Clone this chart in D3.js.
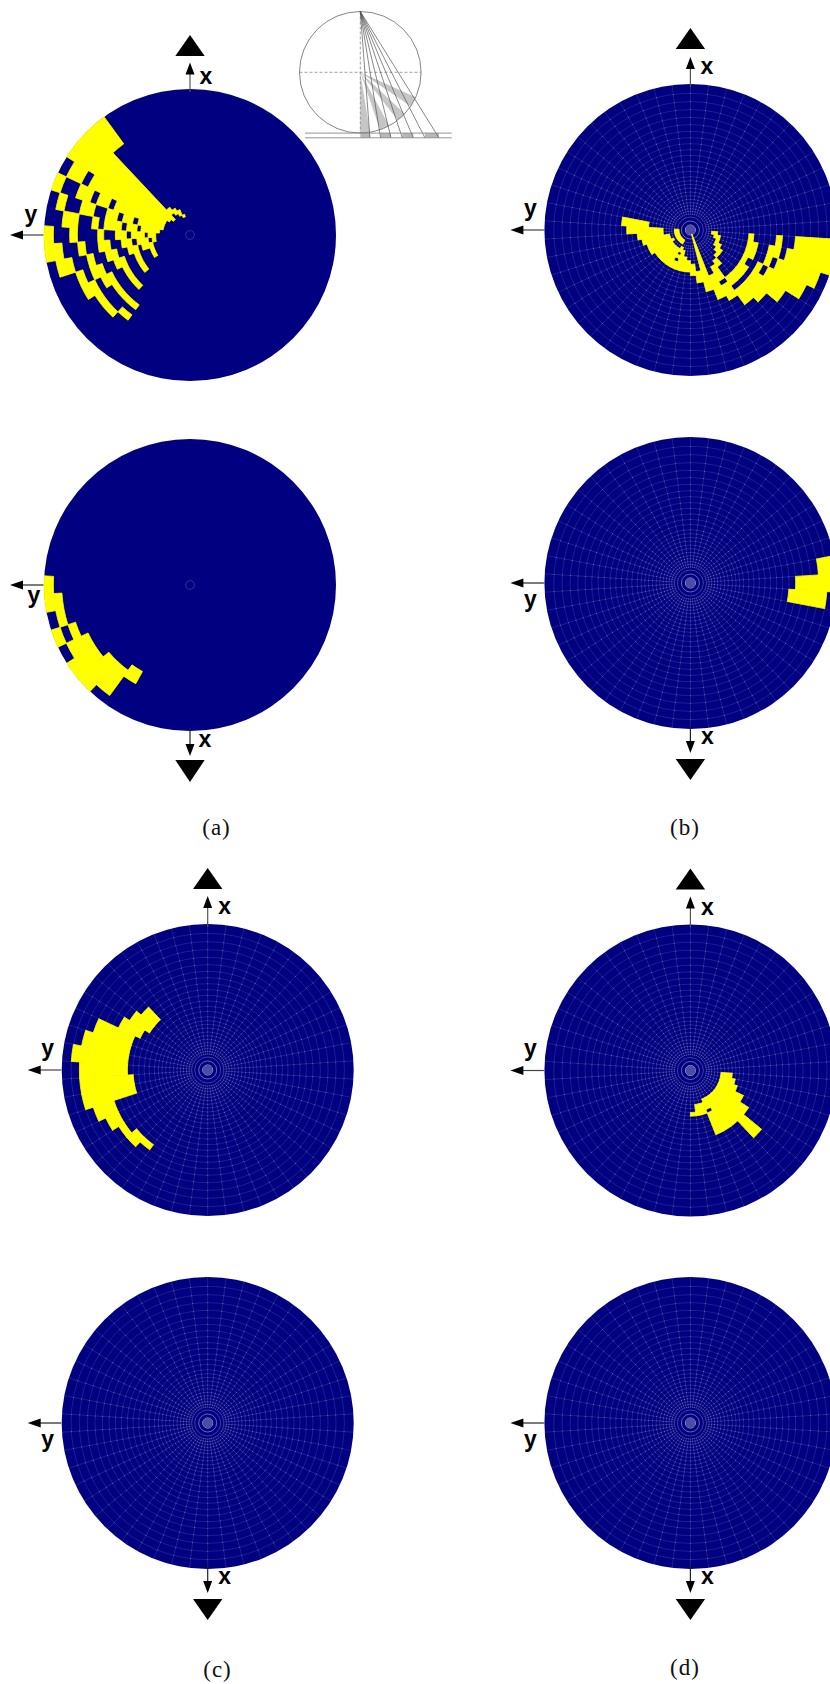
<!DOCTYPE html>
<html><head><meta charset="utf-8">
<script src="https://cdnjs.cloudflare.com/ajax/libs/d3/7.8.5/d3.min.js"></script>
<style>html,body{margin:0;padding:0;background:#fff;overflow:hidden}svg{display:block}</style>
</head><body><svg id="c" width="830" height="1684"></svg>
<script>
// Radial bin edges (outer to inner), in units where the disk radius is 438
const ringEdges = [438,410,385,361,338,316,296,277,259,241,224,207,191,176,160,148,137,126,114,103,92,82,73,64,56,48,40,34,27,20,13];
const sectorCount = 50;
const centerCircles = [39,27,15];
// Yellow bins: [sector, [firstRing,lastRing], ...]
const cellsATop = [
 [47,[23,23]],[46,[21,22]],[45,[20,21]],[44,[0,3],[19,20]],[43,[0,22]],[42,[0,21]],
 [41,[1,2],[4,20]],[40,[0,0],[3,4],[6,7],[9,20]],[39,[1,1],[4,5],[8,9],[11,12],[14,20]],
 [38,[2,3],[6,6],[8,10],[12,13],[15,19]],[37,[0,0],[3,3],[7,7],[10,11],[13,15],[17,18]],
 [36,[0,1],[4,4],[7,8],[11,12],[14,16],[18,18]],[35,[1,2],[5,5],[8,9],[12,13],[15,17]],
 [34,[3,3],[5,6],[9,10],[13,13],[17,17]],[33,[3,4],[6,7],[10,10],[13,13],[17,17]],
 [32,[4,4],[7,7],[10,10],[13,13]],[31,[4,4],[7,7],[10,10]],[30,[5,5],[7,7]]
];
const cellsABottom = [[37,[0,0]],[36,[0,1]],[35,[1,1]],[34,[0,0],[2,2]],[33,[1,3]],[32,[0,3]],[31,[0,4]],[30,[1,4]],[29,[4,5]]];
const cellsBTop = [
 [38,[11,16]],[37,[12,20],[25,26]],[36,[14,20],[25,26]],[35,[15,22],[25,26]],[34,[16,22],[25,26]],
 [33,[16,23],[25,26]],[32,[17,22],[25,26]],[31,[17,22],[25,26]],[30,[17,22],[25,26]],[29,[17,22],[25,26]],
 [28,[17,18],[20,20],[22,23]],[27,[17,22]],[26,[17,20]],[25,[17,19]],[24,[16,18]],[23,[14,16]],[22,[12,29]],
 [21,[10,14]],[20,[9,11],[13,16]],[19,[7,9],[11,12],[16,17]],[18,[6,9],[11,12],[18,18]],
 [17,[4,9],[11,12],[18,19]],[16,[2,7],[9,9],[12,12],[19,20]],[15,[1,6],[8,8],[11,12],[20,20]],
 [14,[0,5],[7,8],[11,12],[20,21]],[13,[0,4],[7,7],[12,12],[21,22]]
];
const cellsBBottom = [[11,[0,1]],[12,[0,4]],[13,[1,5]]];
const cellsCTop = [[43,[8,10]],[42,[7,10]],[41,[6,9]],[40,[3,8]],[39,[2,8]],[38,[1,8]],[37,[2,8]],[36,[2,9]],[35,[2,9]],[34,[3,5]],[33,[4,5]],[32,[5,5]],[31,[5,6]],[30,[6,6]]];
const cellsCBottom = [];
const cellsDTop = [[13,[17,19]],[14,[16,19]],[15,[15,19]],[16,[13,19]],[17,[11,19]],[18,[7,19]],[19,[11,19]],[20,[11,19]],[21,[11,15],[17,19]],[22,[16,18]],[23,[16,18]],[24,[16,16]]];
const cellsDBottom = [];
const captions = ["(a)","(b)","(c)","(d)"];
// Inset sketch: ray foot points on the baseline, in units of the inset circle radius (1) from its centre
const rayFeet = [0,0.159,0.334,0.504,0.690,0.871,1.063,1.293];
const barPairs = [[0,1],[2,3],[4,5],[6,7]];

const svg = d3.select("#c");
const R = 146;
const rScale = d3.scaleLinear().domain([0,438]).range([0,R]);
const aScale = d3.scaleLinear().domain([0,sectorCount]).range([0,2*Math.PI]);
const arc = d3.arc();

const panels = [
 {cx:190,   cy:235,  cells:cellsATop,    grid:false, up:true,  tip:172.5,base:179,apex:200,  xl:[16,-157.5],yl:[-159,-17]},
 {cx:190,   cy:585,  cells:cellsABottom, grid:false, up:false, tip:171,  base:175,apex:197,  xl:[15,155.5], yl:[-156,14]},
 {cx:690.4, cy:230,  cells:cellsBTop,    grid:true,  up:true,  tip:173,  base:181,apex:202,  xl:[16.5,-162],yl:[-160,-18]},
 {cx:690.4, cy:583,  cells:cellsBBottom, grid:true,  up:false, tip:170,  base:176,apex:197,  xl:[17,155],   yl:[-160,20]},
 {cx:207.7, cy:1070, cells:cellsCTop,    grid:true,  up:true,  tip:174,  base:181,apex:202,  xl:[17,-162],  yl:[-160,-18]},
 {cx:207.7, cy:1423, cells:cellsCBottom, grid:true,  up:false, tip:170,  base:176,apex:197,  xl:[17,155],   yl:[-160,20]},
 {cx:690.4, cy:1070.5,cells:cellsDTop,   grid:true,  up:true,  tip:174,  base:181,apex:202,  xl:[17,-162],  yl:[-160,-18]},
 {cx:690.4, cy:1423, cells:cellsDBottom, grid:true,  up:false, tip:170,  base:176,apex:197,  xl:[17,155],   yl:[-160,20]}
];

panels.forEach(p=>{
  const g = svg.append("g").attr("transform",`translate(${p.cx},${p.cy})`);
  g.append("circle").attr("r",R).attr("fill","#000080");
  if(p.grid){
    const gg = g.append("g").attr("fill","none").attr("stroke","#fff");
    gg.selectAll("circle.r").data(ringEdges.slice(1,26)).join("circle").attr("class","r")
      .attr("r",d=>rScale(d)).attr("stroke-width",0.5).attr("stroke-opacity",0.24);
    gg.selectAll("line").data(d3.range(sectorCount)).join("line")
      .attr("x1",d=>rScale(48)*Math.sin(aScale(d))).attr("y1",d=>-rScale(48)*Math.cos(aScale(d)))
      .attr("x2",d=>R*Math.sin(aScale(d))).attr("y2",d=>-R*Math.cos(aScale(d)))
      .attr("stroke-width",0.5).attr("stroke-opacity",0.24);
    const nodes = ringEdges.slice(1,26).flatMap(r=>d3.range(sectorCount).map(s=>({r,s})));
    g.selectAll("circle.n").data(nodes).join("circle").attr("class","n")
      .attr("cx",d=>rScale(d.r)*Math.sin(aScale(d.s))).attr("cy",d=>-rScale(d.r)*Math.cos(aScale(d.s)))
      .attr("r",0.5).attr("fill","#fff").attr("fill-opacity",0.3);
    g.append("circle").attr("r",rScale(15)).attr("fill","#4c4ca6");
    gg.selectAll("circle.c").data(centerCircles).join("circle").attr("class","c")
      .attr("r",d=>rScale(d)).attr("stroke-width",0.8).attr("stroke-opacity",(d,i)=>[0.3,0.5,0.85][i]);
  } else {
    g.append("circle").attr("r",rScale(13)).attr("fill","none").attr("stroke","#3a3aa6").attr("stroke-width",0.8);
  }
  // yellow bins: all runs merged into one path so neighbouring bins leave no seam
  const runs = p.cells.flatMap(row=>row.slice(1).map(([a,b])=>({s:row[0],a,b})));
  if(runs.length) g.append("path")
    .attr("d",runs.map(d=>arc({innerRadius:rScale(ringEdges[d.b+1]),outerRadius:rScale(ringEdges[d.a]),startAngle:aScale(d.s),endAngle:aScale(d.s+1)})).join(""))
    .attr("fill","#ffff00").attr("stroke","#ffff00").attr("stroke-width",0.8);

  // axes arrows
  const s = p.up?-1:1;
  g.append("line").attr("x1",0).attr("x2",0).attr("y1",s*(R-3)).attr("y2",s*(p.tip-10))
    .attr("stroke",p.up?"#555":"#222").attr("stroke-width",1.2);
  g.append("path").attr("d",d3.line()([[0,s*p.tip],[-4.5,s*(p.tip-12)],[4.5,s*(p.tip-12)]])+"Z").attr("fill","#000");
  g.append("path").attr("d",d3.line()([[0,s*p.apex],[-14.7,s*p.base],[14.7,s*p.base]])+"Z").attr("fill","#000");
  g.append("line").attr("x1",-R-0.5).attr("x2",-168).attr("y1",0).attr("y2",0).attr("stroke",p.up?"#444":"#222").attr("stroke-width",1.2);
  g.append("path").attr("d",d3.line()([[-180,0],[-167,-4.5],[-167,4.5]])+"Z").attr("fill","#000");
  g.append("text").text("x").attr("x",p.xl[0]).attr("y",p.xl[1]+6).attr("text-anchor","middle")
    .attr("font-family","Liberation Sans").attr("font-weight","bold").attr("font-size",23);
  g.append("text").text("y").attr("x",p.yl[0]).attr("y",p.yl[1]+3.75).attr("text-anchor","middle")
    .attr("font-family","Liberation Sans").attr("font-weight","bold").attr("font-size",23);
});

// captions
const capPos = [[216.5,835],[685,835],[217.5,1677],[685,1675]];
svg.selectAll("text.cap").data(captions).join("text").attr("class","cap").text(d=>d)
  .attr("x",(d,i)=>capPos[i][0]).attr("y",(d,i)=>capPos[i][1]).attr("text-anchor","middle")
  .attr("font-family","Liberation Serif").attr("font-size",23).attr("letter-spacing",1).attr("fill","#111");

// inset
const ir = 60.8, ic = [360.3,72.3];
const ins = svg.append("g").attr("transform",`translate(${ic[0]},${ic[1]})`);
const X = d3.scaleLinear().domain([-1,1]).range([-ir,ir]);
const Y = d3.scaleLinear().domain([-1,1]).range([-ir,ir]);
const foot = f=>{ // ray from apex (0,-1) to (f,baseline); second hit on the circle
  const dx=f, dy=2, t=2*dy/(dx*dx+dy*dy);
  return [dx*t,-1+dy*t];
};
const wedges = barPairs.map(([a,b])=>[foot(rayFeet[a]),foot(rayFeet[b])]);
const base1 = 1.0, base2 = 1.0+4.7/ir;
ins.selectAll("path.w").data(wedges).join("path").attr("class","w")
  .attr("d",d=>{const p=d3.path();p.moveTo(X(0),Y(0));p.lineTo(X(d[0][0]),Y(d[0][1]));p.lineTo(X(d[1][0]),Y(d[1][1]));p.closePath();return p.toString();})
  .attr("fill","#c6c6c6");
ins.selectAll("rect").data(barPairs).join("rect")
  .attr("x",d=>rayFeet[d[0]]*ir).attr("width",d=>(rayFeet[d[1]]-rayFeet[d[0]])*ir)
  .attr("y",Y(base1)).attr("height",Y(base2)-Y(base1)).attr("fill","#b8b8b8");
ins.append("circle").attr("r",ir).attr("fill","none").attr("stroke","#777").attr("stroke-width",0.9);
ins.append("line").attr("x1",-ir).attr("x2",ir).attr("y1",0).attr("y2",0).attr("stroke","#777").attr("stroke-width",0.7).attr("stroke-dasharray","3 2");
ins.append("line").attr("x1",0).attr("x2",0).attr("y1",-ir).attr("y2",ir).attr("stroke","#777").attr("stroke-width",0.7).attr("stroke-dasharray","3 2");
ins.selectAll("line.ray").data(rayFeet.slice(1)).join("line").attr("class","ray")
  .attr("x1",0).attr("y1",-ir).attr("x2",d=>d*ir).attr("y2",Y(base2))
  .attr("stroke","#555").attr("stroke-width",0.7);
[base1,base2].forEach(b=>ins.append("line").attr("x1",305-ic[0]).attr("x2",451.7-ic[0]).attr("y1",Y(b)).attr("y2",Y(b)).attr("stroke","#888").attr("stroke-width",0.9));
</script></body></html>
